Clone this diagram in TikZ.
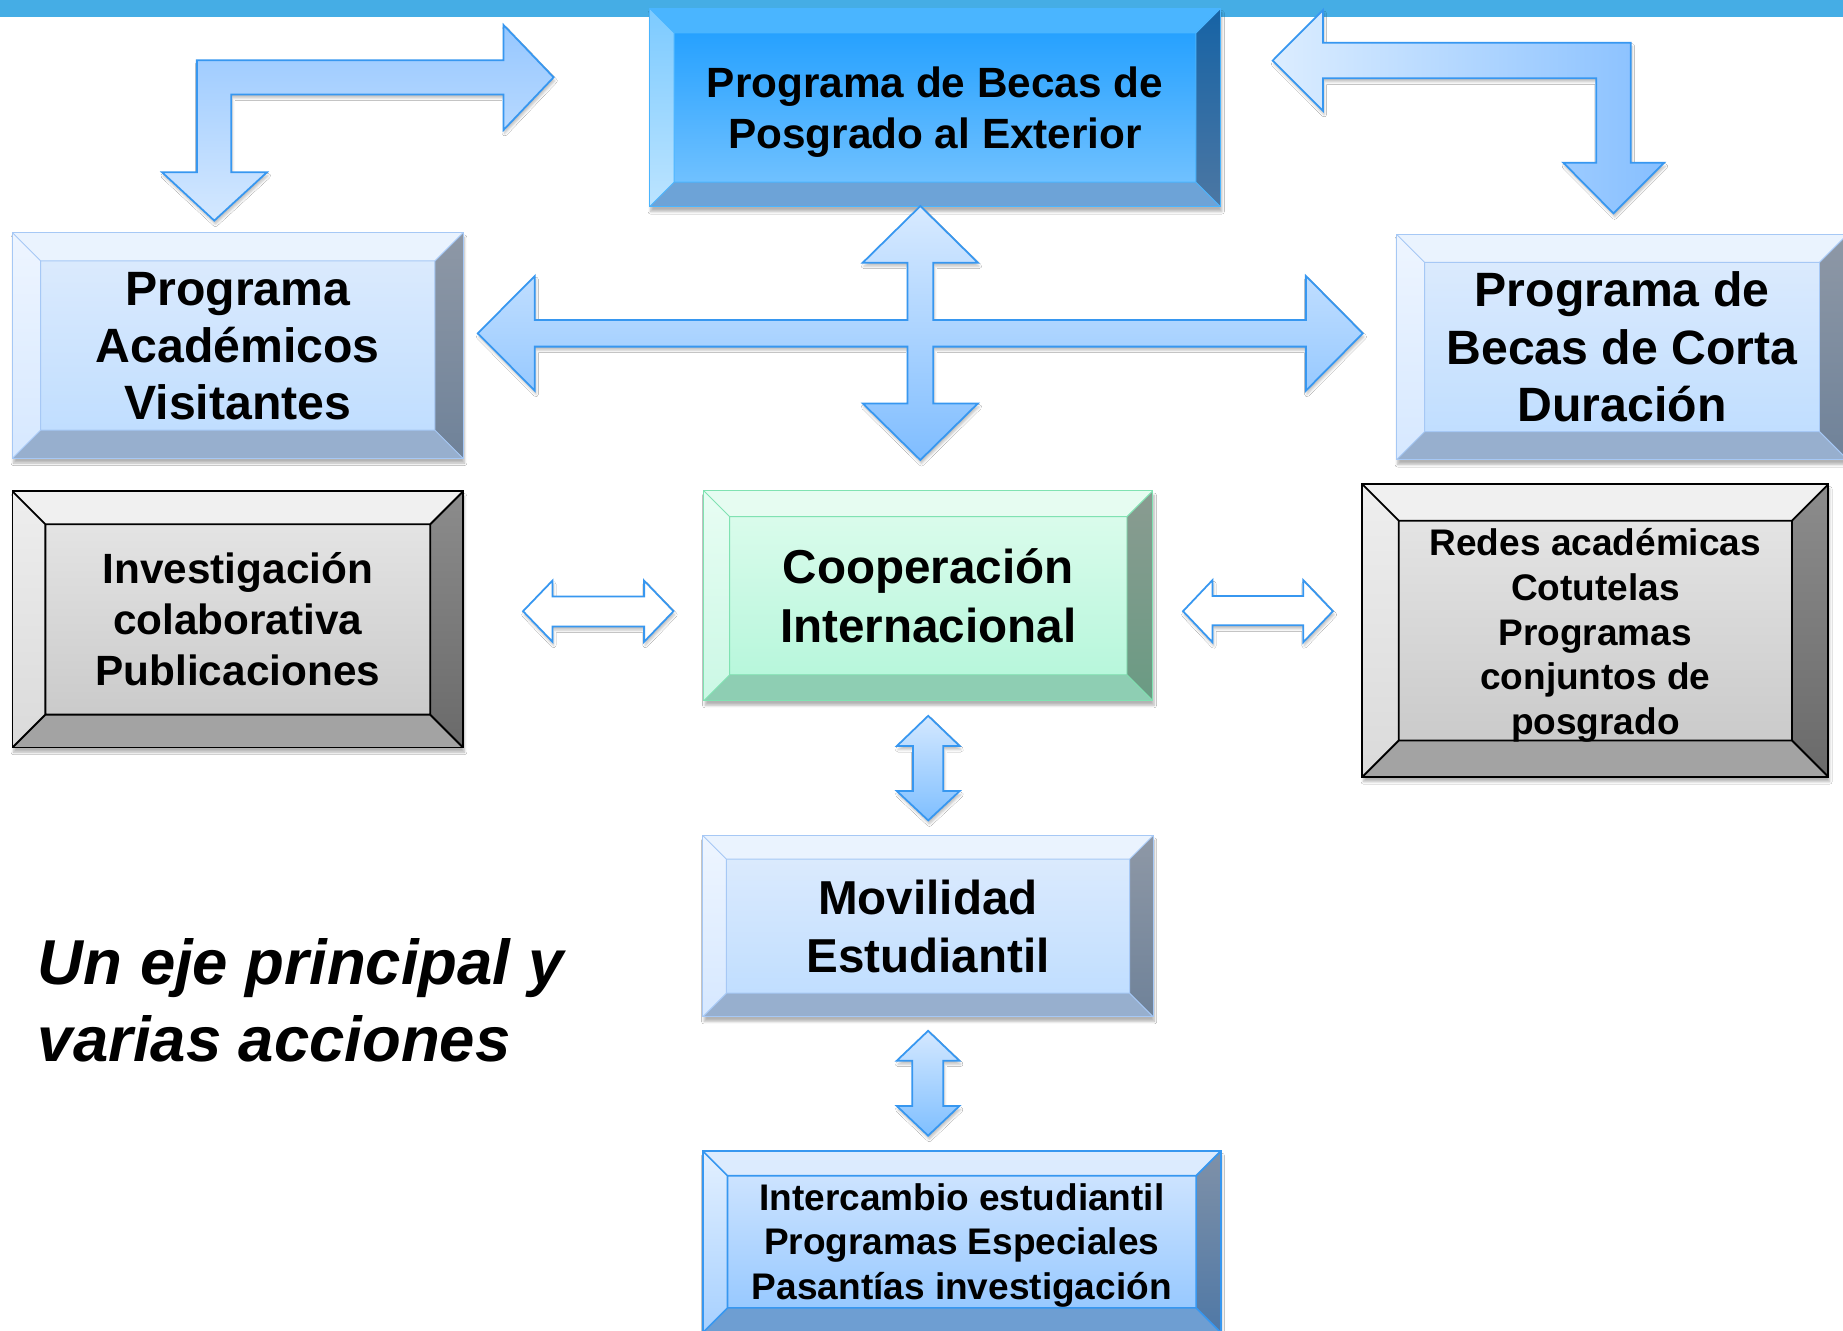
\documentclass[tikz,border=0pt]{standalone}
\usepackage{fontspec}
\setmainfont{Liberation Sans}
\usetikzlibrary{shadows.blur}

\definecolor{barblue}{HTML}{45ADE5}
\definecolor{arrline}{HTML}{3797F0}
% light blue boxes
\definecolor{lbTop}{HTML}{EAF3FE}
\definecolor{lbLeftA}{HTML}{EEF5FF}
\definecolor{lbLeftB}{HTML}{D6E8FF}
\definecolor{lbRightA}{HTML}{8E98A6}
\definecolor{lbRightB}{HTML}{6F8299}
\definecolor{lbBot}{HTML}{97AFCE}
\definecolor{lbInA}{HTML}{DFECFD}
\definecolor{lbInB}{HTML}{BCDCFF}
\definecolor{lbLine}{HTML}{A6C8F5}
% dark blue box
\definecolor{dbTop}{HTML}{4AB5FF}
\definecolor{dbLeftA}{HTML}{7CCAFF}
\definecolor{dbLeftB}{HTML}{BCE4FF}
\definecolor{dbRightA}{HTML}{1663A5}
\definecolor{dbRightB}{HTML}{4C77A3}
\definecolor{dbBot}{HTML}{6DA3D7}
\definecolor{dbInA}{HTML}{1A9CFF}
\definecolor{dbInB}{HTML}{7CC6FF}
\definecolor{dbLine}{HTML}{4AB5FF}
% green box
\definecolor{grTop}{HTML}{E6FCF1}
\definecolor{grLeftA}{HTML}{E8FDF3}
\definecolor{grLeftB}{HTML}{CBF8E5}
\definecolor{grRightA}{HTML}{8A9B91}
\definecolor{grRightB}{HTML}{6A9B83}
\definecolor{grBot}{HTML}{8ECEB3}
\definecolor{grInA}{HTML}{DFFCEE}
\definecolor{grInB}{HTML}{B2F6D9}
\definecolor{grLine}{HTML}{80E2B2}
% gray boxes
\definecolor{gyTop}{HTML}{F0F0F0}
\definecolor{gyLeftA}{HTML}{EEEEEE}
\definecolor{gyLeftB}{HTML}{DADADA}
\definecolor{gyRightA}{HTML}{8C8C8C}
\definecolor{gyRightB}{HTML}{6A6A6A}
\definecolor{gyBot}{HTML}{A3A3A3}
\definecolor{gyInA}{HTML}{E8E8E8}
\definecolor{gyInB}{HTML}{C6C6C6}
\definecolor{gyLine}{HTML}{000000}
% intercambio box
\definecolor{ibTop}{HTML}{DCEBFE}
\definecolor{ibLeftA}{HTML}{E3F0FF}
\definecolor{ibLeftB}{HTML}{A6D0FF}
\definecolor{ibRightA}{HTML}{7F91A8}
\definecolor{ibRightB}{HTML}{4F78A6}
\definecolor{ibBot}{HTML}{6E9ED2}
\definecolor{ibInA}{HTML}{D6E8FF}
\definecolor{ibInB}{HTML}{8EC4FF}
\definecolor{ibLine}{HTML}{3797F0}

\tikzset{
  bevw/.code={\def\bevw{#1}}, bevw=22pt,
  bevlw/.code={\def\bevlw{#1}}, bevlw=0.8pt,
  bevel/.style={rectangle, inner sep=0pt, align=center, draw=#1Line, line width=\bevlw,
    top color=#1InA, bottom color=#1InB,
    blur shadow={shadow xshift=1pt, shadow yshift=-4pt, shadow opacity=30, shadow blur steps=6},
    path picture={
      \path (path picture bounding box.north west) coordinate (bnw)
            (path picture bounding box.north east) coordinate (bne)
            (path picture bounding box.south west) coordinate (bsw)
            (path picture bounding box.south east) coordinate (bse);
      \path ([xshift=\bevw,yshift=-\bevw]bnw) coordinate (inw)
            ([xshift=-\bevw,yshift=-\bevw]bne) coordinate (ine)
            ([xshift=\bevw,yshift=\bevw]bsw) coordinate (isw)
            ([xshift=-\bevw,yshift=\bevw]bse) coordinate (ise);
      \fill[#1Top] (bnw) -- (bne) -- (ine) -- (inw) -- cycle;
      \fill[#1Bot] (bsw) -- (bse) -- (ise) -- (isw) -- cycle;
      \shade[top color=#1LeftA, bottom color=#1LeftB] (bnw) -- (inw) -- (isw) -- (bsw) -- cycle;
      \shade[top color=#1RightA, bottom color=#1RightB] (bne) -- (ine) -- (ise) -- (bse) -- cycle;
      \draw[#1Line, line width=\bevlw] (inw) rectangle (ise)
        (bnw) -- (inw) (bne) -- (ine) (bsw) -- (isw) (bse) -- (ise);
    }},
  blockarr/.style={draw=arrline, line width=1.5pt, line join=miter,
    blur shadow={shadow xshift=1pt, shadow yshift=-3pt, shadow opacity=25, shadow blur steps=4}},
}

\begin{document}
\begin{tikzpicture}[x=1pt,y=-1pt]
  \useasboundingbox (0,0) rectangle (1568,1132);
  \fill[white] (0,0) rectangle (1568,1132);
  \fill[barblue] (0,0) rectangle (1568,14.5);

  % boxes
  \node[bevel=db, bevw=21pt, minimum width=486pt, minimum height=169pt,
        font=\bfseries\fontsize{36}{43}\selectfont] (becas) at (795.5,91.5)
        {\rule{0pt}{34pt}Programa de Becas de\\Posgrado al Exterior};
  \node[bevel=lb, bevw=24pt, minimum width=383.5pt, minimum height=192pt,
        font=\bfseries\fontsize{41}{48.5}\selectfont] (visit) at (202.3,294)
        {\rule{0pt}{30pt}Programa\\Académicos\\Visitantes};
  \node[bevel=lb, bevw=24pt, minimum width=384pt, minimum height=192pt,
        font=\bfseries\fontsize{41}{49}\selectfont] (corta) at (1380,295.2)
        {Programa de\\Becas de Corta\\Duración};
  \node[bevlw=1.6pt, bevel=gy, bevw=28pt, minimum width=383.4pt, minimum height=218pt,
        font=\bfseries\fontsize{36}{43.5}\selectfont] (invest) at (202.3,527)
        {Investigación\\colaborativa\\Publicaciones};
  \node[bevel=gr, bevw=22pt, minimum width=382pt, minimum height=178.5pt,
        font=\bfseries\fontsize{40.5}{50}\selectfont] (coop) at (789.8,506.8)
        {Cooperación\\Internacional};
  \node[bevlw=1.6pt, bevel=gy, bevw=31pt, minimum width=396.5pt, minimum height=249pt,
        font=\bfseries\fontsize{31.5}{38}\selectfont] (redes) at (1357.3,536.5)
        {\rule{0pt}{31.5pt}Redes académicas\\Cotutelas\\Programas\\conjuntos de\\posgrado};
  \node[bevel=lb, bevw=20pt, minimum width=383pt, minimum height=154pt,
        font=\bfseries\fontsize{40.5}{49}\selectfont] (movil) at (789.5,788)
        {Movilidad\\Estudiantil};
  \node[bevlw=1.4pt, bevel=ib, bevw=21pt, minimum width=440.6pt, minimum height=154.4pt,
        font=\bfseries\fontsize{31.5}{38}\selectfont] (inter) at (818.3,1056.5)
        {\rule{0pt}{29pt}Intercambio estudiantil\\Programas Especiales\\Pasantías investigación};

  \node[anchor=base west, align=left, inner sep=0pt,
        font=\bfseries\itshape\fontsize{54}{65}\selectfont] (lema) at (32,903)
        {Un eje principal y\\varias acciones};

  % bent arrows
  \draw[blockarr, top color={rgb,255:red,150;green,199;blue,255}, bottom color={rgb,255:red,212;green,232;blue,255}]
    (167.5,51.3) -- (428.4,51.3) -- (428.4,21.3) -- (471,65.8) -- (428.4,110.6)
    -- (428.4,80.3) -- (196.7,80.3) -- (196.7,146.6) -- (227.1,146.6)
    -- (182.3,187.7) -- (137.9,146.6) -- (167.5,146.6) -- cycle;
  \draw[blockarr, left color={rgb,255:red,220;green,237;blue,255}, right color={rgb,255:red,134;green,191;blue,255}]
    (1387.5,36.3) -- (1125.6,36.3) -- (1125.6,8.5) -- (1082.8,51.5) -- (1125.6,94.4)
    -- (1125.6,66.6) -- (1358,66.6) -- (1358,138.4) -- (1330,138.4)
    -- (1372.7,181.5) -- (1415.8,138.4) -- (1387.5,138.4) -- cycle;

  % cross arrow
  \draw[blockarr, top color={rgb,255:red,216;green,234;blue,255}, bottom color={rgb,255:red,127;green,189;blue,255}]
    (783,175.3) -- (832,223.5) -- (794,223.5) -- (794,272.3) -- (1111,272.3)
    -- (1111,234.8) -- (1159.4,283.6) -- (1111,332.4) -- (1111,294.9) -- (794,294.9)
    -- (794,343.2) -- (832,343.2) -- (783,391.4) -- (734,343.2) -- (772,343.2)
    -- (772,294.9) -- (455,294.9) -- (455,332.4) -- (406.5,283.6) -- (455,234.8)
    -- (455,272.3) -- (772,272.3) -- (772,223.5) -- (734,223.5) -- cycle;

  % double arrows
  \draw[blockarr, fill=white]
    (445,520) -- (470,494) -- (470,507.5) -- (548,507.5) -- (548,494) -- (573,520)
    -- (548,546) -- (548,533) -- (470,533) -- (470,546) -- cycle;
  \draw[blockarr, fill=white]
    (1006.5,520) -- (1031.6,493.5) -- (1031.6,507) -- (1108.7,507) -- (1108.7,493.5) -- (1134,520)
    -- (1108.7,546.5) -- (1108.7,532) -- (1031.6,532) -- (1031.6,546.5) -- cycle;
  \draw[blockarr, top color={rgb,255:red,212;green,232;blue,255}, bottom color={rgb,255:red,127;green,191;blue,255}]
    (789.7,609) -- (816.5,634.7) -- (802.5,634.7) -- (802.5,673) -- (816.5,673) -- (789.7,698)
    -- (763,673) -- (776.7,673) -- (776.7,634.7) -- (763,634.7) -- cycle;
  \draw[blockarr, top color={rgb,255:red,212;green,232;blue,255}, bottom color={rgb,255:red,127;green,191;blue,255}]
    (789.6,877) -- (816.2,902.4) -- (802.5,902.4) -- (802.5,941) -- (816.2,941) -- (789.6,966.2)
    -- (763,941) -- (776.2,941) -- (776.2,902.4) -- (763,902.4) -- cycle;
\end{tikzpicture}
\end{document}
